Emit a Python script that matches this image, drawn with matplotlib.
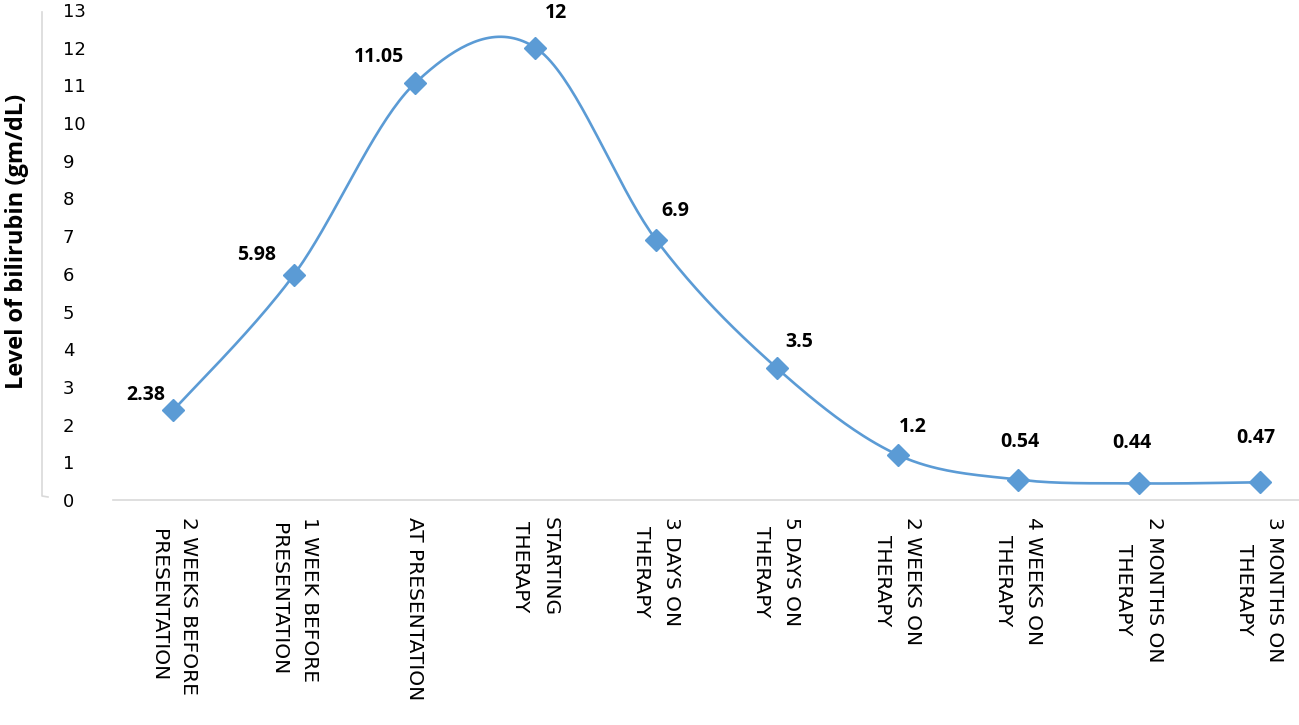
import numpy as np
import matplotlib.pyplot as plt
from matplotlib.lines import Line2D

# data
stages = ["2 WEEKS BEFORE\nPRESENTATION", "1 WEEK BEFORE\nPRESENTATION", "AT PRESENTATION",
          "STARTING\nTHERAPY", "3 DAYS ON\nTHERAPY", "5 DAYS ON\nTHERAPY",
          "2 WEEKS ON\nTHERAPY", "4 WEEKS ON\nTHERAPY", "2 MONTHS ON\nTHERAPY",
          "3 MONTHS ON\nTHERAPY"]
bilirubin = [2.38, 5.98, 11.05, 12, 6.9, 3.5, 1.2, 0.54, 0.44, 0.47]
value_labels = ["2.38", "5.98", "11.05", "12", "6.9", "3.5", "1.2", "0.54", "0.44", "0.47"]

# label offsets in points (dx, dy)
label_offsets = [(-20, 11), (-27, 14), (-26, 19), (15, 25), (14, 21),
                 (16, 19), (11, 20), (1, 27), (-5, 29), (-3, 32)]

blue = '#5B9BD5'


def smooth_curve(x, y, n=40):
    # excel style smoothed line: catmull-rom through bezier segments
    pts = np.column_stack([x, y]).astype(float)
    ext = np.vstack([pts[0], pts, pts[-1]])
    out = []
    for i in range(len(pts) - 1):
        p0, p1, p2, p3 = ext[i], ext[i + 1], ext[i + 2], ext[i + 3]
        c1 = p1 + (p2 - p0) / 6
        c2 = p2 - (p3 - p1) / 6
        t = np.linspace(0, 1, n)[:, None]
        seg = ((1 - t) ** 3) * p1 + 3 * ((1 - t) ** 2) * t * c1 + 3 * (1 - t) * t ** 2 * c2 + t ** 3 * p2
        out.append(seg if i == 0 else seg[1:])
    out = np.vstack(out)
    return out[:, 0], out[:, 1]


x = np.arange(len(stages))
sx, sy = smooth_curve(x, bilirubin)

fig = plt.figure(figsize=(12.99, 7.25), dpi=100)
ax = fig.add_axes([113 / 1299, 225 / 725, 1207 / 1299, 490 / 725])

ax.plot(sx, sy, color=blue, lw=1.9, solid_capstyle='round')
ax.plot(x, bilirubin, linestyle='none', marker='D', markersize=11, color=blue)

for i, (xi, yi) in enumerate(zip(x, bilirubin)):
    ax.annotate(value_labels[i], (xi, yi), xytext=label_offsets[i], textcoords='offset points',
                ha='center', va='center', fontsize=14, fontweight='bold', family='Open Sans')

ax.set_xlim(-0.5, 9.5)
ax.set_ylim(0, 13)
ax.set_yticks(range(0, 14))
ax.set_xticks(x)
ax.set_xticklabels(stages, rotation=270, ha='center', va='top', multialignment='center',
                   fontsize=14.5, family='DejaVu Sans', linespacing=1.75)
for lab in ax.get_yticklabels():
    lab.set_horizontalalignment('left')
    lab.set_family('DejaVu Sans')
    lab.set_fontsize(13)
ax.tick_params(axis='y', length=0, pad=36)
ax.tick_params(axis='x', length=0, pad=12)

for s in ['top', 'right', 'left']:
    ax.spines[s].set_visible(False)
ax.spines['bottom'].set_color('#d9d9d9')
ax.spines['bottom'].set_linewidth(1.2)

# separate vertical axis line on the far left
fig.add_artist(Line2D([42 / 1299, 42 / 1299, 48 / 1299], [713 / 725, 229 / 725, 228 / 725],
                      color='#d9d9d9', lw=1.2))

fig.text(17 / 1299, 484 / 725, 'Level of bilirubin (gm/dL)', rotation=90, ha='center', va='center',
         fontsize=17, fontweight='bold', family='Open Sans')

fig.savefig('out.png', dpi=100)
